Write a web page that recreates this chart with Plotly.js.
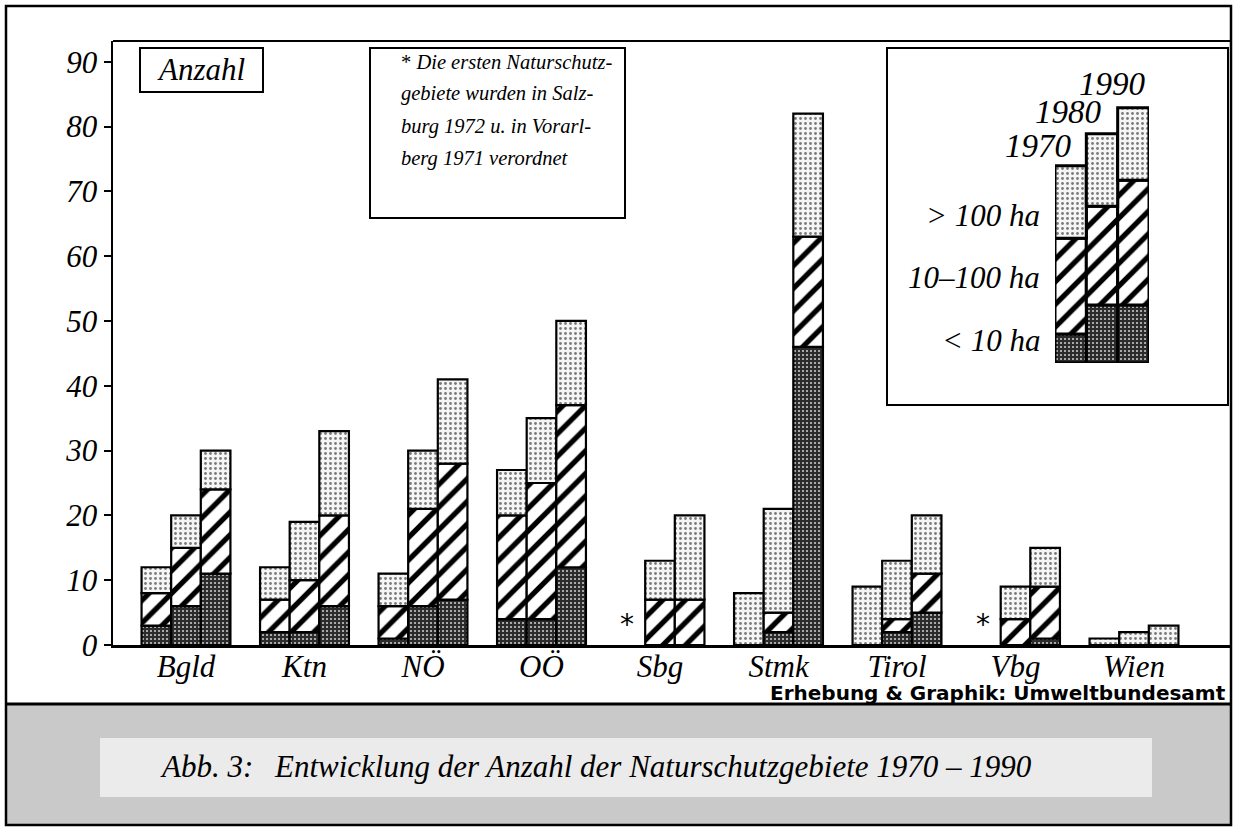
<!DOCTYPE html>
<html>
<head>
<meta charset="utf-8">
<script src="https://cdn.plot.ly/plotly-3.0.1.min.js"></script>
<style>
html,body{margin:0;padding:0;background:#fff;}
#chart{width:1234px;height:827px;}
</style>
</head>
<body>
<div id="chart"></div>
<script>
// ---- data ----
const categories = ['Bgld','Ktn','NÖ','OÖ','Sbg','Stmk','Tirol','Vbg','Wien'];
const years = ['1970','1980','1990'];
const sizeLabels = ['< 10 ha','10–100 ha','> 100 ha'];
// number of nature reserves by size class
const small1970 = [3, 2, 1, 4, 0, 0, 0, 0, 0];
const mid1970   = [5, 5, 5,16, 0, 0, 0, 0, 0];
const large1970 = [4, 5, 5, 7, 0, 8, 9, 0, 1];
const small1980 = [6, 2, 6, 4, 0, 2, 2, 0, 0];
const mid1980   = [9, 8,15,21, 7, 3, 2, 4, 0];
const large1980 = [5, 9, 9,10, 6,16, 9, 5, 2];
const small1990 = [11, 6, 7,12, 0,46, 5, 1, 0];
const mid1990   = [13,14,21,25, 7,17, 6, 8, 0];
const large1990 = [ 6,13,13,13,13,19, 9, 6, 3];
const yTicks = [0,10,20,30,40,50,60,70,80,90];
// key illustration (schematic heights)
const keySmall = [1.0, 2.0, 2.0];
const keyMid   = [3.3, 3.4, 4.3];
const keyLarge = [2.5, 2.5, 2.5];
const starCats = ['Sbg','Vbg'];
const noteLines = ['<span style="font-style:normal">*</span> Die ersten Naturschutz-',
  'gebiete wurden in Salz-', 'burg 1972 u. in Vorarl-', 'berg 1971 verordnet'];

// ---- layout geometry ----
const W = 1234, H = 827, L = 113, R = 2, T = 41, B = 182;
const PW = W - L - R, PH = H - T - B;
const fx = p => (p - L) / PW;
const fy = p => (H - B - p) / PH;

const serif = '"Liberation Serif", "Times New Roman", Times, serif';
const sans = '"DejaVu Sans", "Liberation Sans", Arial, sans-serif';
const patterns = [
  {shape:'.', bgcolor:'#2b2b2b', fgcolor:'#c8c8c8', size:4, solidity:0.22, fillmode:'replace'},
  {shape:'/', bgcolor:'#ffffff', fgcolor:'#000000', size:16, solidity:0.33, fillmode:'replace'},
  {shape:'.', bgcolor:'#f5f5f5', fgcolor:'#7a7a7a', size:5, solidity:0.25, fillmode:'replace'}
];

const byYear = {
  '1970': [small1970, mid1970, large1970],
  '1980': [small1980, mid1980, large1980],
  '1990': [small1990, mid1990, large1990]
};

const traces = [];
years.forEach(yr => {
  const cum = categories.map(() => 0);
  byYear[yr].forEach((vals, ci) => {
    traces.push({
      type:'bar', x: categories, y: vals.map(v => v > 0 ? v : null),
      base: cum.slice(), offsetgroup: yr, name: sizeLabels[ci] + ' ' + yr,
      marker:{color: patterns[ci].bgcolor, pattern: patterns[ci], line:{color:'#000', width:2.2}},
      showlegend:false, hoverinfo:'skip'
    });
    vals.forEach((v, i) => cum[i] += v);
  });
});

// key bars
const keyCum = years.map(() => 0);
[keySmall, keyMid, keyLarge].forEach((vals, ci) => {
  traces.push({
    type:'bar', x: years, y: vals, base: keyCum.slice(), width: 1, offsetgroup:'key',
    xaxis:'x2', yaxis:'y2',
    marker:{color: patterns[ci].bgcolor, pattern: patterns[ci], line:{color:'#000', width:3}},
    showlegend:false, hoverinfo:'skip'
  });
  vals.forEach((v, i) => keyCum[i] += v);
});

const ann = [];
const txt = (text, x, y, size, xanchor, yanchor, extra) => Object.assign({
  text, x: fx(x), y: fy(y), xref:'paper', yref:'paper', showarrow:false,
  xanchor: xanchor || 'center', yanchor: yanchor || 'middle',
  font:{family: serif, size: size, color:'#000', style:'italic'}
}, extra || {});

ann.push(txt('Anzahl', 201, 70, 31, 'center', 'middle'));
noteLines.forEach((t, i) => ann.push(txt(t, 399, 62 + i * 32, 20.5, 'left', 'middle')));
ann.push(txt('1990', 1148, 84, 33, 'right'));
ann.push(txt('1980', 1104, 112, 33, 'right'));
ann.push(txt('1970', 1074, 146, 33, 'right'));
ann.push(txt('> 100 ha', 1042, 215, 31, 'right'));
ann.push(txt('10–100 ha', 1042, 277, 31, 'right'));
ann.push(txt('< 10 ha', 1042, 340, 31, 'right'));
ann.push({text:'Erhebung & Graphik: Umweltbundesamt', x: fx(1228), y: fy(693), xref:'paper', yref:'paper',
  showarrow:false, xanchor:'right', yanchor:'middle',
  font:{family: sans, size:20, color:'#000', weight:700}});
ann.push(txt('Abb. 3:', 158, 766, 31, 'left'));
ann.push(txt('Entwicklung der Anzahl der Naturschutzgebiete 1970 – 1990', 272, 766, 31, 'left'));
starCats.forEach(c => ann.push({text:'*', x:c, y:0, xref:'x', yref:'y', showarrow:false,
  xanchor:'center', yanchor:'bottom', xshift:-33, yshift:2,
  font:{family: sans, size:28, color:'#000'}}));

const rectP = (x0, y0, x1, y1, extra) => Object.assign({type:'rect', xref:'paper', yref:'paper',
  x0: fx(x0), x1: fx(x1), y0: fy(y0), y1: fy(y1), line:{color:'#000', width:2}}, extra || {});
const lineP = (x0, y0, x1, y1, w) => ({type:'line', xref:'paper', yref:'paper',
  x0: fx(x0), x1: fx(x1), y0: fy(y0), y1: fy(y1), line:{color:'#000', width: w || 2}});

const shapes = [
  rectP(6, 704, 1231, 825, {fillcolor:'#c9c9c9', line:{width:0}, layer:'below'}),
  rectP(100, 738, 1152, 797, {fillcolor:'#ebebeb', line:{width:0}, layer:'below'}),
  rectP(6, 6, 1231, 825, {line:{color:'#000', width:2.5}}),
  lineP(6, 704, 1231, 704, 3),
  lineP(113, 41, 1231, 41, 2),
  rectP(140, 48, 263, 92, {line:{color:'#000', width:2}}),
  rectP(370, 48, 625, 218, {line:{color:'#000', width:2}}),
  rectP(887, 48, 1228, 405, {line:{color:'#000', width:2}})
];

const layout = {
  width: W, height: H,
  margin:{l:L, r:R, t:T, b:B, pad:0},
  paper_bgcolor:'#fff', plot_bgcolor:'rgba(0,0,0,0)',
  barmode:'group', bargap:0.25, bargroupgap:0,
  showlegend:false,
  xaxis:{type:'category', categoryarray: categories, range:[-0.616, 8.827],
    showline:true, linecolor:'#000', linewidth:2.5, ticks:'', showgrid:false, zeroline:false,
    ticklabelstandoff:-8,
    tickfont:{family: serif, size:31, color:'#000', style:'italic'}, fixedrange:true},
  yaxis:{range:[0, 93.2], tickvals: yTicks, ticktext: yTicks.map(String),
    showline:true, linecolor:'#000', linewidth:2.5, ticks:'outside', ticklen:7, tickwidth:2, tickcolor:'#000',
    showgrid:false, zeroline:false,
    tickfont:{family: serif, size:31, color:'#000', style:'italic'}, fixedrange:true},
  xaxis2:{type:'category', domain:[fx(1055), fx(1149)], anchor:'y2', visible:false, range:[-0.5, 2.5]},
  yaxis2:{domain:[fy(363), fy(101)], anchor:'x2', visible:false, range:[0, 9.03]},
  annotations: ann,
  shapes: shapes
};

Plotly.newPlot('chart', traces, layout, {staticPlot:true, displayModeBar:false});
</script>
</body>
</html>
